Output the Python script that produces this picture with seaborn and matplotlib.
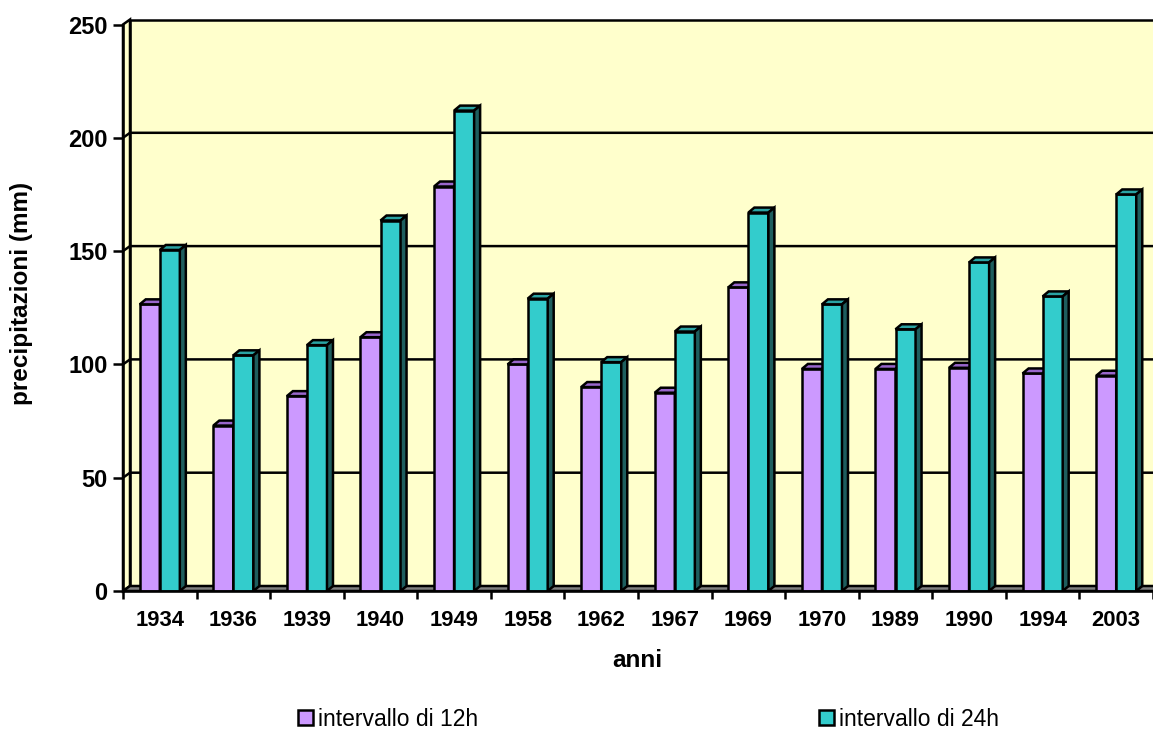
import numpy as np
import pandas as pd
import matplotlib
matplotlib.use("Agg")
import matplotlib.pyplot as plt
from matplotlib.patches import Polygon
import seaborn as sns

# --- data -------------------------------------------------------------
anni = ["1934", "1936", "1939", "1940", "1949", "1958", "1962",
        "1967", "1969", "1970", "1989", "1990", "1994", "2003"]
pioggia_12h = [126.5, 73, 86, 112, 178.5, 100, 90, 87.5, 134, 98, 98, 98.5, 96, 95]
pioggia_24h = [150.5, 104, 108.5, 163.5, 212, 129, 101, 114.5, 167, 126.5, 115.5, 145, 130, 175]
serie = ["intervallo di 12h", "intervallo di 24h"]
y_ticks = [0, 50, 100, 150, 200, 250]

df = pd.DataFrame({
    "anno": anni * 2,
    "mm": pioggia_12h + pioggia_24h,
    "serie": [serie[0]] * len(anni) + [serie[1]] * len(anni),
})

# --- style ------------------------------------------------------------
sns.set_style("white")
plt.rcParams["font.family"] = ["Liberation Sans", "DejaVu Sans"]
plt.rcParams["text.color"] = "black"
plt.rcParams["axes.labelcolor"] = "black"
plt.rcParams["xtick.color"] = "black"
plt.rcParams["ytick.color"] = "black"

front_cols = ["#CC99FF", "#33CCCC"]
top_cols = ["#9966CC", "#2AA3A3"]
side_cols = ["#7A52A3", "#1E5E5E"]
wall_col = "#FFFFCC"
floor_col = "#808080"
LW = 1.8

W, H = 1153, 729
fig = plt.figure(figsize=(W / 100, H / 100), dpi=100)
ax_left, ax_right, ax_bottom, ax_top = 123, 1153, 591, 24.5
ax = fig.add_axes([ax_left / W, 1 - ax_bottom / H,
                   (ax_right - ax_left) / W, (ax_bottom - ax_top) / H])

n = len(anni)
ax.set_xlim(-0.5, n - 0.5)
ax.set_ylim(0, 250)

# pixel -> data conversion for the pseudo-3D depth
px_x = (ax_right - ax_left) / n
px_y = (ax_bottom - ax_top) / 250
dxw, dyw = 7 / px_x, 5 / px_y      # walls
dxb, dyb = 6 / px_x, 5 / px_y      # bars

x0, x1 = -0.5, n - 0.5 + 1

# back wall
ax.add_patch(Polygon([(x0 + dxw, dyw), (x1 + dxw, dyw), (x1 + dxw, 250 + dyw), (x0 + dxw, 250 + dyw)],
                     closed=True, facecolor=wall_col, edgecolor="black", lw=LW,
                     zorder=0.5, clip_on=False))
# side wall
ax.add_patch(Polygon([(x0, 0), (x0 + dxw, dyw), (x0 + dxw, 250 + dyw), (x0, 250)],
                     closed=True, facecolor=wall_col, edgecolor="black", lw=LW,
                     zorder=0.6, clip_on=False))
# floor
ax.add_patch(Polygon([(x0, 0), (x1, 0), (x1 + dxw, dyw), (x0 + dxw, dyw)],
                     closed=True, facecolor=floor_col, edgecolor="black", lw=LW,
                     zorder=0.7, clip_on=False))
# gridlines on the back and side walls
for v in y_ticks[1:-1]:
    ax.plot([x0, x0 + dxw, x1 + dxw], [v, v + dyw, v + dyw], color="black",
            lw=LW, zorder=0.8, clip_on=False, solid_capstyle="butt")

# --- bars -------------------------------------------------------------
sns.barplot(data=df, x="anno", y="mm", hue="serie", order=anni, hue_order=serie,
            palette=front_cols, width=0.545, edgecolor="black", linewidth=LW,
            saturation=1, ax=ax)

for k, cont in enumerate(ax.containers):
    z = 3 + k
    for rect in cont.patches:
        bx, bw, bh = rect.get_x(), rect.get_width(), rect.get_height()
        rect.set_zorder(z)
        top = Polygon([(bx, bh), (bx + dxb, bh + dyb), (bx + bw + dxb, bh + dyb), (bx + bw, bh)],
                      closed=True, facecolor=top_cols[k], edgecolor="black", lw=LW,
                      zorder=z, joinstyle="miter")
        side = Polygon([(bx + bw, 0), (bx + bw + dxb, dyb), (bx + bw + dxb, bh + dyb), (bx + bw, bh)],
                       closed=True, facecolor=side_cols[k], edgecolor="black", lw=LW,
                       zorder=z, joinstyle="miter")
        ax.add_patch(top)
        ax.add_patch(side)

# --- axes -------------------------------------------------------------
ax.set_facecolor("none")
for s in ["top", "right"]:
    ax.spines[s].set_visible(False)
for s in ["left", "bottom"]:
    ax.spines[s].set_linewidth(LW)
    ax.spines[s].set_color("black")
    ax.spines[s].set_zorder(5)

ax.set_yticks(y_ticks)
ax.set_yticklabels([str(t) for t in y_ticks], fontsize=17, fontweight="bold", color="black")
ax.tick_params(axis="y", which="major", direction="out", length=7, width=LW,
               color="black", labelcolor="black", pad=4, left=True)

ax.set_xticks(range(n))
ax.set_xticklabels(anni, fontsize=15.8, fontweight="bold", color="black")
ax.set_xticks(np.arange(-0.5, n, 1.0), minor=True)
ax.tick_params(axis="x", which="major", length=0, pad=14, labelcolor="black")
ax.tick_params(axis="x", which="minor", direction="out", length=6, width=LW,
               color="black", bottom=True)

ax.set_xlabel("anni", fontsize=17.5, fontweight="bold", color="black")
ax.set_ylabel("precipitazioni (mm)", fontsize=17.5, fontweight="bold", color="black")
ax.xaxis.set_label_coords((637.5 - ax_left) / (ax_right - ax_left),
                          (ax_bottom - 649) / (ax_bottom - ax_top))
ax.yaxis.set_label_coords((33 - ax_left) / (ax_right - ax_left),
                          (ax_bottom - 293.5) / (ax_bottom - ax_top))

# --- legend -----------------------------------------------------------
handles, labels = ax.get_legend_handles_labels()
ax.get_legend().remove()
for h in handles:
    h.set_linewidth(LW)
    h.set_edgecolor("black")
leg = fig.legend(handles, labels, loc="center", bbox_to_anchor=(648.5 / W, 1 - 719 / H),
                 ncol=2, frameon=False, fontsize=16.5, handlelength=0.65, handleheight=0.65,
                 handletextpad=0.22, columnspacing=14.9, borderpad=0, borderaxespad=0)
for t in leg.get_texts():
    t.set_color("black")

fig.savefig("out.png", dpi=100)
